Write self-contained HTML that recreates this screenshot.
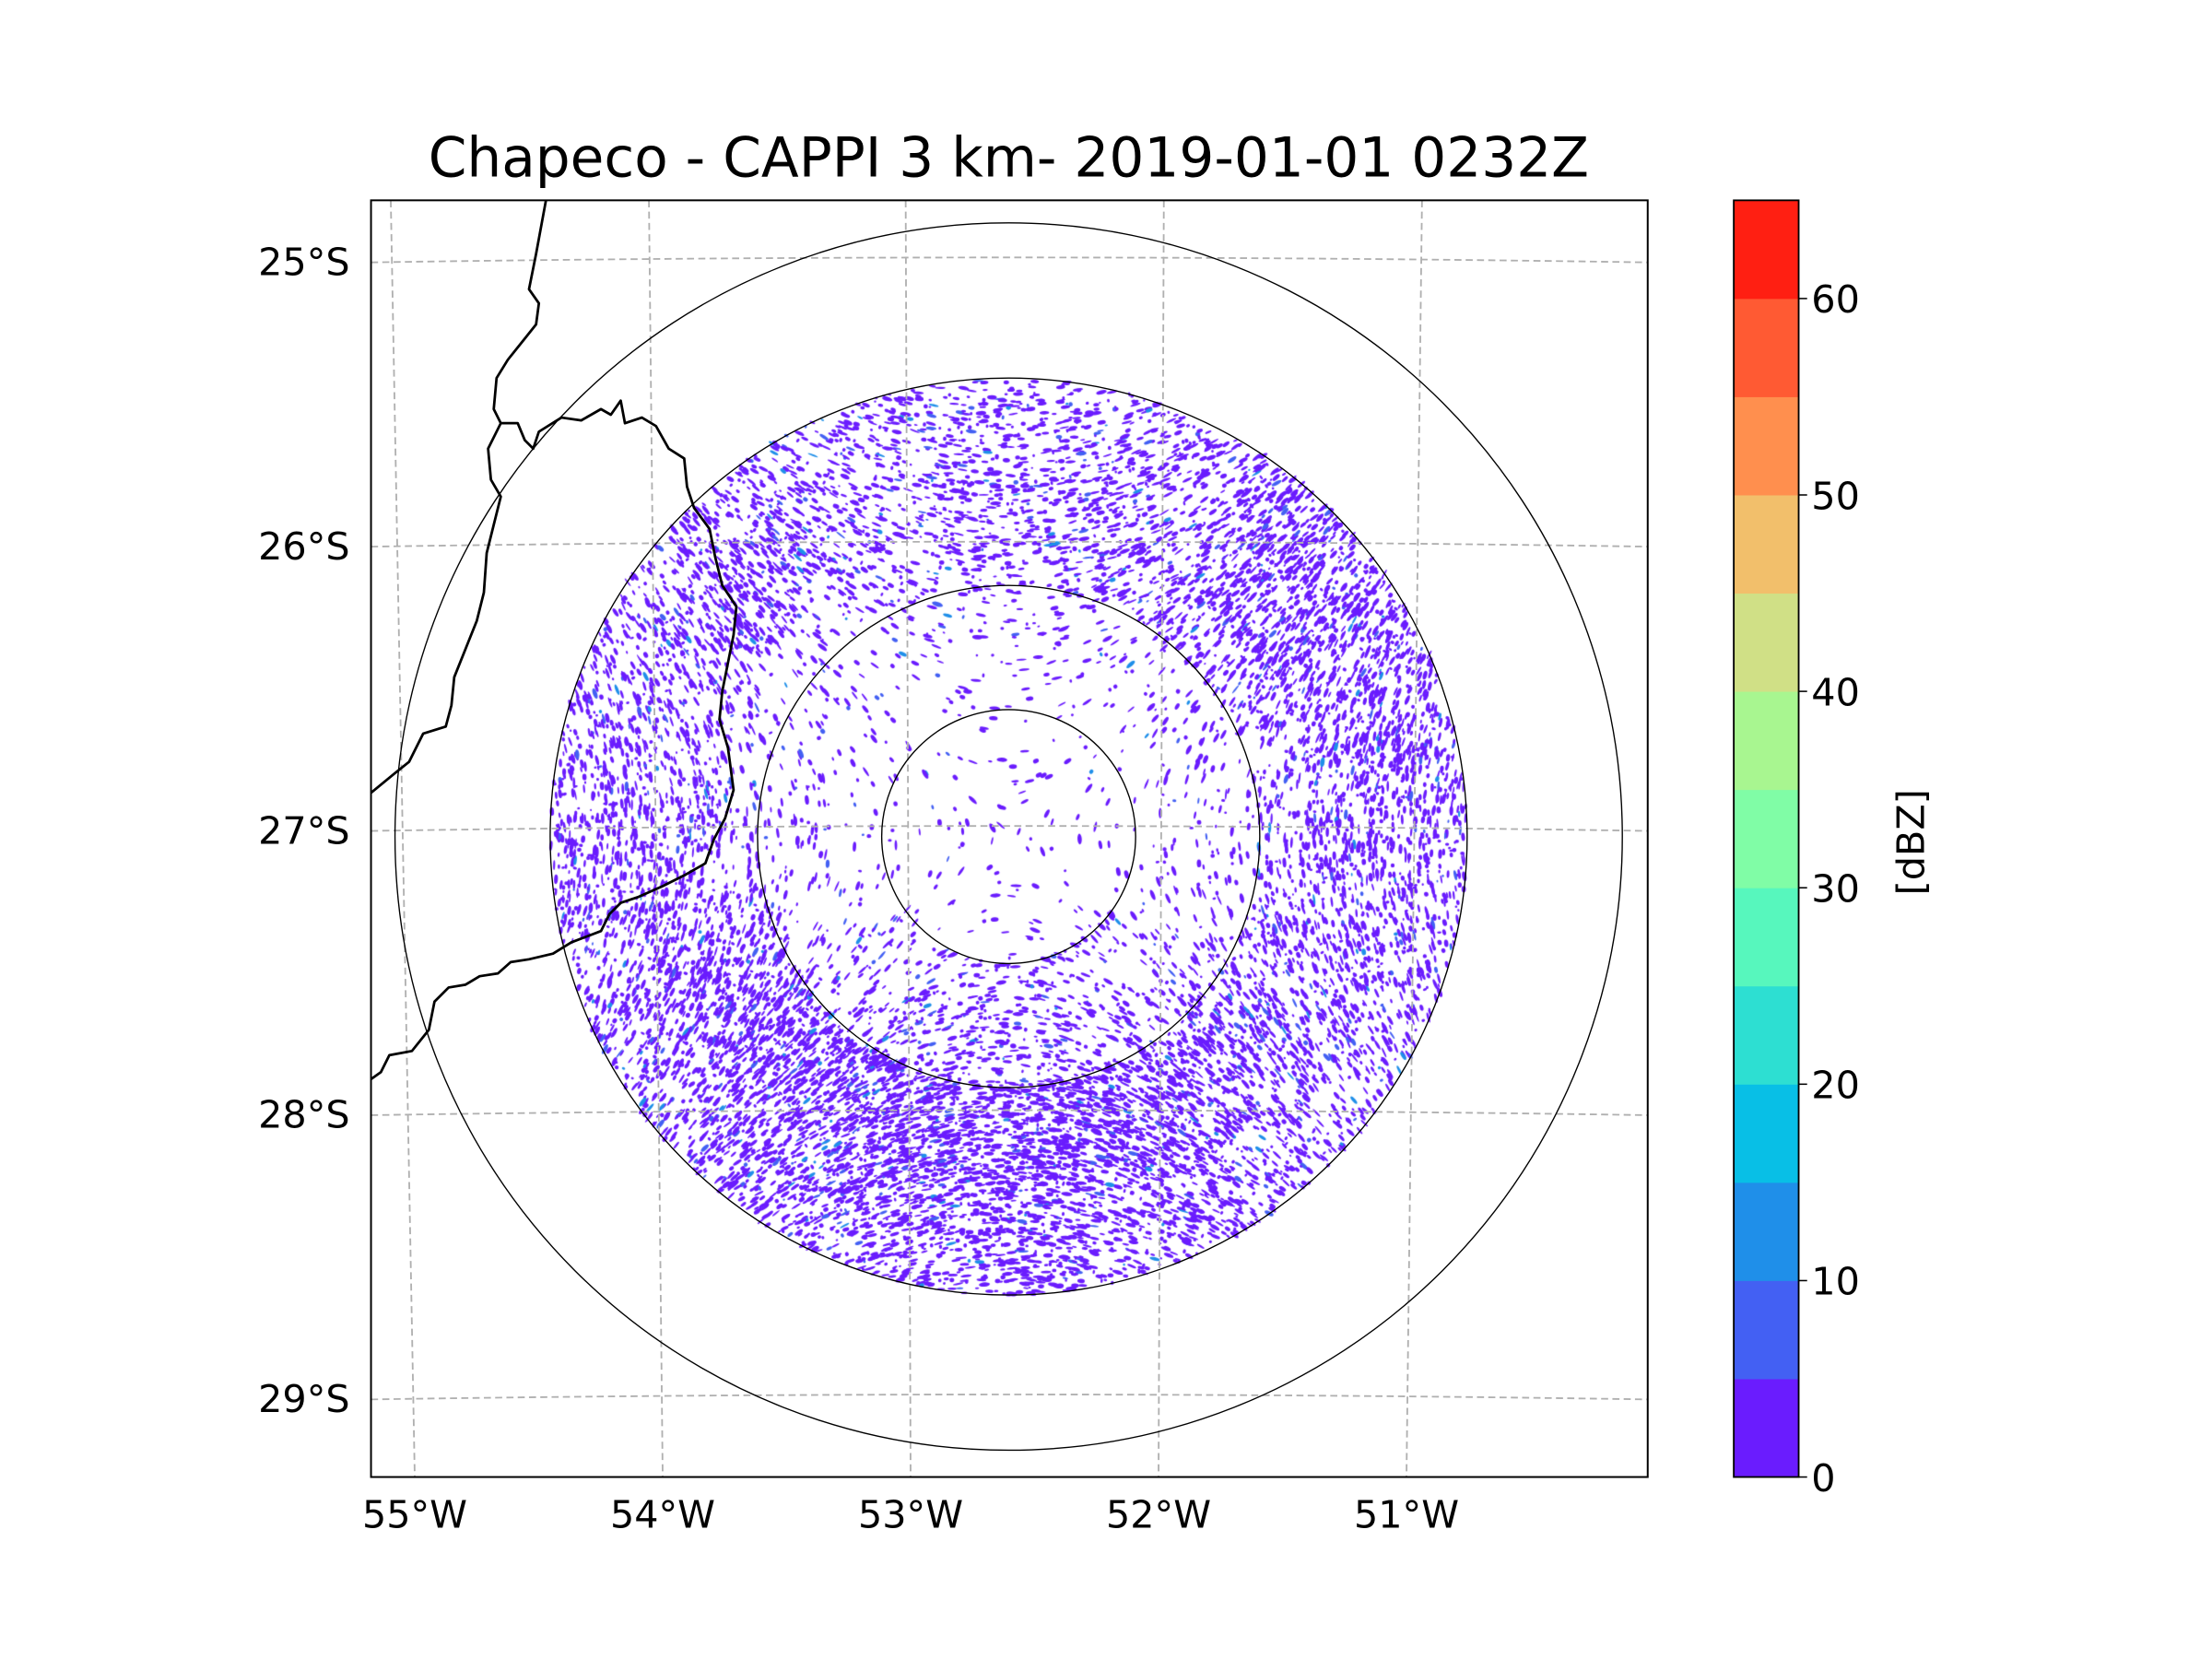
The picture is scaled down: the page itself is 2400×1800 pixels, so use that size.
<!DOCTYPE html>
<html><head><meta charset="utf-8"><style>
html,body{margin:0;padding:0;background:#fff;}
#wrap{position:relative;width:2400px;height:1800px;overflow:hidden;}
svg,canvas{position:absolute;left:0;top:0;}
text{font-family:"DejaVu Sans","Liberation Sans",sans-serif;fill:#000;}
</style></head><body>
<div id="wrap">
<canvas id="echo" width="2400" height="1800"></canvas>
<svg id="chart" width="2400" height="1800" viewBox="0 0 1568 1176"></svg>
</div>
<script>
// ---- data ----
const latTicks = [25, 26, 27, 28, 29];
const latLabels = ["25°S","26°S","27°S","28°S","29°S"];
const lonTicks = [55, 54, 53, 52, 51];
const lonLabels = ["55°W","54°W","53°W","52°W","51°W"];
const cbBounds = [0,5,10,15,20,25,30,35,40,45,50,55,60,65];
const cbColors = ["#6a1cfe","#4360f3","#1f8fe9","#08bfe6","#2ddfd2","#57f7bd","#80fda6","#a8f690","#d0e086","#f2bf6b","#ff8f4e","#ff5a33","#ff1f12"];
const cbTicks = [0,10,20,30,40,50,60];
const ringRadii = [90, 178, 325, 435];
const radialBins = [0, 90, 135, 178, 215, 255, 290, 325];
// azimuth sectors N, NNE, NE, ENE, E, ESE, SE, SSE, S, SSW, SW, WSW, W, WNW, NW, NNW
const density0 = [0.04,0.04,0.04,0.04,0.04,0.04,0.04,0.04,0.04,0.04,0.04,0.04,0.04,0.04,0.04,0.04];
const density1 = [0.06,0.06,0.06,0.06,0.06,0.08,0.15,0.25,0.28,0.25,0.15,0.08,0.06,0.06,0.05,0.06];
const density2 = [0.12,0.12,0.1,0.1,0.12,0.15,0.2,0.3,0.35,0.3,0.2,0.12,0.12,0.1,0.08,0.1];
const density3 = [0.3,0.35,0.35,0.3,0.3,0.4,0.55,0.7,0.75,0.8,0.75,0.5,0.25,0.15,0.12,0.2];
const density4 = [0.35,0.35,0.55,0.5,0.45,0.4,0.5,0.7,0.75,0.8,0.7,0.55,0.4,0.3,0.45,0.3];
const density5 = [0.3,0.35,0.6,0.55,0.45,0.4,0.4,0.5,0.6,0.6,0.5,0.45,0.45,0.4,0.5,0.3];
const density6 = [0.3,0.3,0.5,0.45,0.4,0.35,0.3,0.4,0.45,0.45,0.4,0.35,0.4,0.35,0.3,0.3];
const densities = [density0,density1,density2,density3,density4,density5,density6];
const coastA = [[387,142],[380,180],[375,205],[382,215],[380,230],[372,240],[360,255],[352,268],[350,290],[355,300],[346,318],[348,340],[355,352],[350,372],[345,392],[343,420],[338,440],[330,460],[322,480],[320,500],[316,515],[300,520],[290,540],[280,548],[263,562]];
const coastB = [[355,300],[367,300],[372,312],[378,318],[382,306],[398,296],[412,298],[426,290],[433,294],[440,284],[443,300],[455,296],[465,302],[474,318],[485,325],[487,345],[492,360],[503,375],[507,395],[512,415],[522,430],[520,450],[516,470],[512,490],[510,510],[516,530],[520,560],[514,580],[506,595],[500,612],[486,620],[470,628],[452,636],[440,640],[432,648],[426,660],[405,668],[392,676],[375,680],[362,682],[353,690],[340,692],[330,698],[318,700],[308,710],[304,730],[292,745],[276,748],[270,760],[263,765]];
// ---- scales ----
const PX0=263, PX1=1168, PY0=142, PY1=1047, CX=715, CY=593;
const latY = lat => 185 + (lat-25)*201.5;
const lonXtop = lon => [277,460,642,825,1008][lonTicks.indexOf(lon)];
const lonXbot = lon => 294 + (55-lon)*175.75;
const cbY = v => PY1 - (v/65)*(PY1-PY0);
const NS="http://www.w3.org/2000/svg";
const svg=document.getElementById('chart');
function mk(tag, attrs, parent){const e=document.createElementNS(NS,tag);for(const k in attrs)e.setAttribute(k,attrs[k]);(parent||svg).appendChild(e);return e;}
latTicks.forEach((lat,i)=>{
  const y=latY(lat);
  const p=mk('path',{d:`M${PX0},${y+1} Q${CX},${y-6} ${PX1},${y+1}`,fill:'none',stroke:'#b0b0b0','stroke-width':1.2,'stroke-dasharray':'5,3'});
  
  
  const t=mk('text',{x:248,y:y+10,'font-size':27,'text-anchor':'end'});
  t.textContent=latLabels[i];
  
  
});
lonTicks.forEach((lon,i)=>{
  const xt=lonXtop(lon), xb=lonXbot(lon);
  const p=mk('line',{x1:xt,y1:PY0,x2:xb,y2:PY1,stroke:'#b0b0b0','stroke-width':1.2,'stroke-dasharray':'5,3'});
  
  
  const t=mk('text',{x:xb,y:1083,'font-size':27,'text-anchor':'middle'});
  t.textContent=lonLabels[i];
  
  
});
ringRadii.forEach(r=>{
  const c=mk('circle',{cx:CX,cy:CY,r:r,fill:'none',stroke:'#000','stroke-width':0.9});
  
  
});
[coastA,coastB].forEach(pts=>{
  const p=mk('polyline',{points:pts.map(p=>p.join(',')).join(' '),fill:'none',stroke:'#000','stroke-width':1.8,'stroke-linejoin':'round'});
  
  
});
const fr=mk('rect',{x:PX0,y:PY0,width:PX1-PX0,height:PY1-PY0,fill:'none',stroke:'#000','stroke-width':1.3});


const tt=mk('text',{x:715,y:125,'font-size':39,'text-anchor':'middle'});
tt.textContent='Chapeco - CAPPI 3 km- 2019-01-01 0232Z';


cbColors.forEach((c,i)=>{
  const y0=cbY(cbBounds[i+1]), y1=cbY(cbBounds[i]);
  const r=mk('rect',{x:1229,y:y0,width:46,height:y1-y0+0.3,fill:c});
  
  
});
const cbf=mk('rect',{x:1229,y:PY0,width:46,height:PY1-PY0,fill:'none',stroke:'#000','stroke-width':1.2});


cbTicks.forEach(v=>{
  const y=cbY(v);
  const l=mk('line',{x1:1275,y1:y,x2:1281,y2:y,stroke:'#000','stroke-width':1});
  
  
  const t=mk('text',{x:1284,y:y+10,'font-size':27});
  t.textContent=String(v);
  
  
});
const cl=mk('text',{x:1364,y:597,'font-size':27,'text-anchor':'middle',transform:'rotate(-90 1364 597)'});
cl.textContent='[dBZ]';


// echoes (deterministic texture driven by density table)
const cv=document.getElementById('echo');const ctx=cv.getContext('2d');
const S=2400/1568;ctx.scale(S,S);
let seed=12345;function rnd(){seed=(seed*1103515245+12345)&0x7fffffff;return seed/0x7fffffff;}
const nAz=16, dth=2*Math.PI/nAz;
for(let b=0;b<densities.length;b++){
  const r1=radialBins[b], r2=radialBins[b+1];
  for(let a=0;a<nAz;a++){
    const d=densities[b][a];
    const area=0.5*(r2*r2-r1*r1)*dth;
    const n=Math.round(d*area/9);
    for(let k=0;k<n;k++){
      const th=(a-0.5)*dth+rnd()*dth;
      const r=Math.sqrt(r1*r1+rnd()*(r2*r2-r1*r1));
      const x=CX+r*Math.sin(th), y=CY-r*Math.cos(th);
      const len=0.8+rnd()*3.2, wid=0.6+rnd()*1.0;
      const q=rnd();
      ctx.fillStyle = q<0.93 ? '#6a1cfe' : (q<0.98 ? '#4360f3':'#1f8fe9');
      ctx.beginPath();
      ctx.ellipse(x,y,len,wid,-th+0.3*(rnd()-0.5),0,2*Math.PI);
      ctx.fill();
    }
  }
}
</script>
</body></html>
